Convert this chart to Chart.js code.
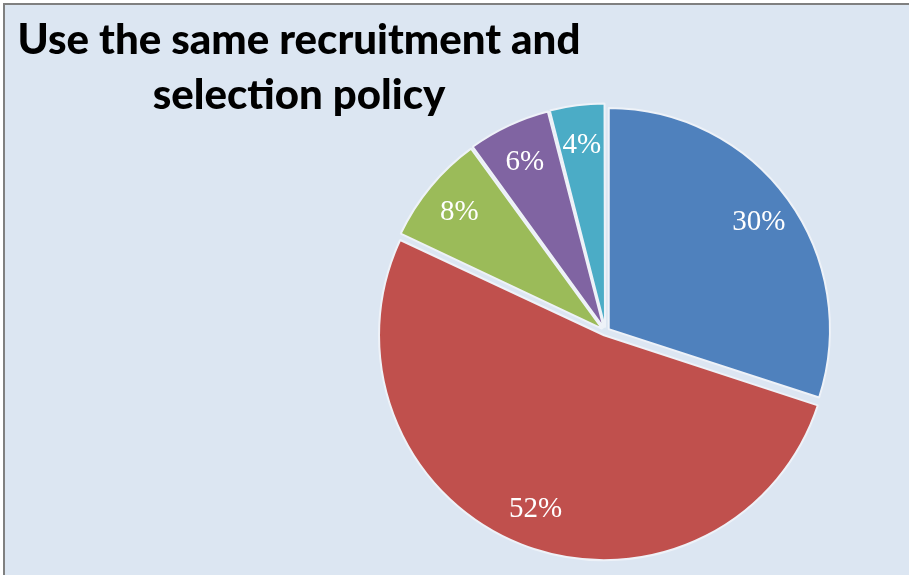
<!DOCTYPE html>
<html>
<head>
<meta charset="utf-8">
<script src="https://cdn.jsdelivr.net/npm/chart.js@4"></script>
<style>
    html, body { margin: 0; padding: 0; background: #ffffff; }
    #frame {
        position: absolute; left: 3px; top: 3px; width: 906px; height: 572px;
        background: #dce6f2; border-top: 2px solid #808080; border-left: 2px solid #808080;
        box-sizing: border-box; overflow: hidden;
    }
    #title {
        position: absolute; left: -6px; top: 6px; width: 600px; text-align: center;
        font-family: Lato, "Open Sans", sans-serif; font-weight: 900; font-size: 42px;
        line-height: 55px; color: #000;
    }
    #wrap { position: absolute; left: -5px; top: -5px; width: 909px; height: 575px; }
</style>
</head>
<body>
<div id="frame">
    <div id="wrap"><canvas id="pieChart" width="909" height="575"></canvas></div>
    <div id="title">Use the same recruitment and<br>selection policy</div>
</div>
<script>
const categories = ["A", "B", "C", "D", "E"];
const shares = [30, 52, 8, 6, 4];
const sliceColors = ["#4f81bd", "#c0504d", "#9bbb59", "#8064a2", "#4bacc6"];
const explode = 16; // chart.js pushes each slice out by offset/4

// draw the percentage inside each slice
const sliceLabels = {
    id: "sliceLabels",
    afterDatasetsDraw(chart) {
        const ctx = chart.ctx;
        const meta = chart.getDatasetMeta(0);
        const total = shares.reduce((a, b) => a + b, 0);
        ctx.save();
        ctx.fillStyle = "#ffffff";
        ctx.font = "29px 'Liberation Serif', 'DejaVu Serif', serif";
        ctx.textAlign = "center";
        ctx.textBaseline = "middle";
        meta.data.forEach((arc, i) => {
            const p = arc.getProps(["x", "y", "startAngle", "endAngle", "outerRadius"], true);
            const mid = (p.startAngle + p.endAngle) / 2;
            const r = p.outerRadius * 0.84 + explode / 4;
            const txt = Math.round(shares[i] / total * 100) + "%";
            ctx.fillText(txt, p.x + Math.cos(mid) * r, p.y + Math.sin(mid) * r + 2);
        });
        ctx.restore();
    }
};

new Chart(document.getElementById("pieChart").getContext("2d"), {
    type: "pie",
    data: {
        labels: categories,
        datasets: [{
            data: shares,
            backgroundColor: sliceColors,
            borderColor: "#eef2f8",
            borderWidth: 2,
            offset: explode
        }]
    },
    options: {
        responsive: false,
        animation: false,
        radius: 221,
        layout: { padding: { left: 302, top: 88, right: 0, bottom: 0 } },
        plugins: {
            legend: { display: false },
            tooltip: { enabled: false }
        }
    },
    plugins: [sliceLabels]
});
</script>
</body>
</html>
